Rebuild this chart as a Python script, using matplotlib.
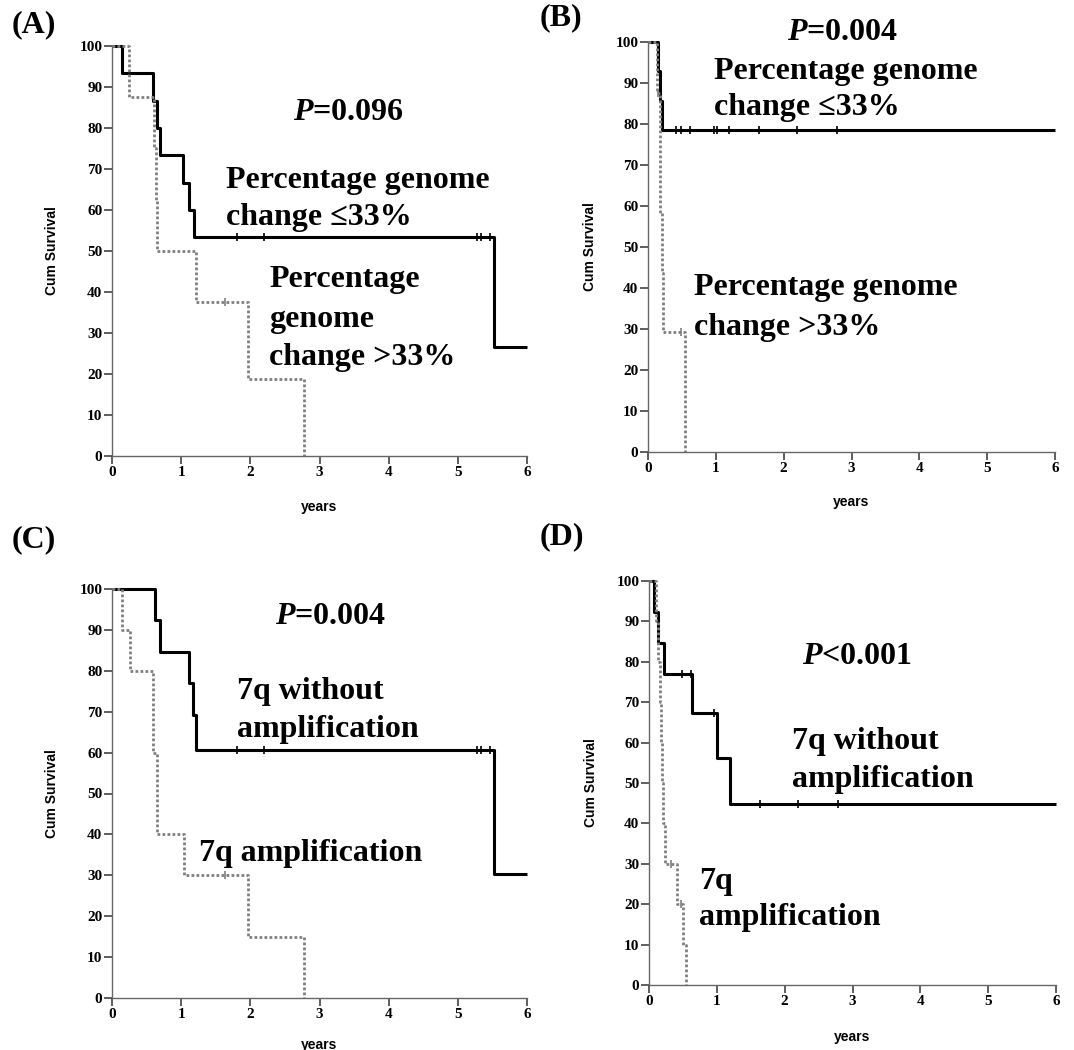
import matplotlib
matplotlib.use("Agg")
import matplotlib.pyplot as plt

plt.rcParams['mathtext.fontset'] = 'custom'
plt.rcParams['mathtext.it'] = 'Liberation Serif:italic:bold'
plt.rcParams['mathtext.rm'] = 'Liberation Serif:bold'

# ---- data ----
# (A) percentage genome change, overall
a_low_t = [0, 0.15, 0.59, 0.65, 0.70, 1.03, 1.11, 1.18, 5.52, 6.0]
a_low_s = [100, 93.3, 86.7, 80.0, 73.3, 66.7, 60.0, 53.3, 26.7, 26.7]
a_low_cens = [1.80, 2.20, 5.28, 5.33, 5.46]
a_high_t = [0, 0.25, 0.60, 0.63, 0.65, 1.21, 1.97, 2.78]
a_high_s = [100, 87.5, 75.0, 62.5, 50.0, 37.5, 18.75, 0]
a_high_cens = [1.63]

# (B) percentage genome change
b_low_t = [0, 0.15, 0.18, 0.21, 6.0]
b_low_s = [100, 92.9, 85.7, 78.6, 78.6]
b_low_cens = [0.42, 0.49, 0.62, 0.97, 1.02, 1.19, 1.63, 2.19, 2.78]
b_high_t = [0, 0.13, 0.17, 0.20, 0.22, 0.54]
b_high_s = [100, 87.5, 58.3, 43.75, 29.2, 0]
b_high_cens = [0.15, 0.48]

# (C) 7q amplification, overall
c_wo_t = [0, 0.62, 0.70, 1.12, 1.17, 1.22, 5.52, 6.0]
c_wo_s = [100, 92.3, 84.6, 76.9, 69.2, 60.6, 30.3, 30.3]
c_wo_cens = [1.80, 2.20, 5.27, 5.33, 5.46]
c_amp_t = [0, 0.14, 0.255, 0.59, 0.65, 1.035, 1.97, 2.78]
c_amp_s = [100, 90, 80, 60, 40, 30, 15, 0]
c_amp_cens = [1.63]

# (D) 7q amplification
d_wo_t = [0, 0.08, 0.13, 0.22, 0.64, 1.0, 1.19, 6.0]
d_wo_s = [100, 92.3, 84.6, 76.9, 67.3, 56.1, 44.9, 44.9]
d_wo_cens = [0.48, 0.62, 0.96, 1.63, 2.2, 2.78]
d_amp_t = [0, 0.11, 0.14, 0.16, 0.18, 0.19, 0.21, 0.23, 0.41, 0.50, 0.54]
d_amp_s = [100, 90, 80, 70, 60, 50, 40, 30, 20, 10, 0]
d_amp_cens = [0.33, 0.47]

yticks = list(range(0, 101, 10))
xticks = list(range(0, 7))

W, H = 1074, 1050
fig = plt.figure(figsize=(W / 100, H / 100), dpi=100)


def px_axes(x0, y0, x1, y1):
    return fig.add_axes([x0 / W, 1 - y1 / H, (x1 - x0) / W, (y1 - y0) / H])


def km(ax, t, s, cens, solid):
    if solid:
        kw = dict(color='black', lw=2.2, linestyle='-')
    else:
        kw = dict(color='#808080', lw=2.0, linestyle=(0, (1, 0.8)))
    ax.step(t, s, where='post', solid_capstyle='butt', dash_capstyle='butt', **kw)
    # censor marks sit on the curve value at that time
    vals = []
    for c in cens:
        v = s[0]
        for ti, si in zip(t, s):
            if ti <= c:
                v = si
        vals.append(v)
    ax.plot(cens, vals, linestyle='none', marker='|', ms=6, mew=1.2,
            color=kw['color'])


def style(ax, xlab_y, ylab_x):
    ax.set_xlim(0, 6)
    ax.set_ylim(0, 100)
    ax.set_xticks(xticks)
    ax.set_yticks(yticks)
    for side in ('top', 'right'):
        ax.spines[side].set_visible(False)
    for side in ('left', 'bottom'):
        ax.spines[side].set_color('#666666')
        ax.spines[side].set_linewidth(1.0)
    ax.tick_params(direction='out', length=6, width=1.1, color='#333333', pad=1)
    for lab in ax.get_xticklabels() + ax.get_yticklabels():
        lab.set_fontfamily('Liberation Serif')
        lab.set_fontweight('bold')
        lab.set_fontsize(11)
    ax.set_xlabel('years', family='Liberation Sans', weight='bold', fontsize=10)
    ax.set_ylabel('Cum Survival', family='Liberation Sans', weight='bold', fontsize=10)
    ax.xaxis.set_label_coords(0.5, xlab_y)
    ax.yaxis.set_label_coords(ylab_x, 0.5)


def label(x, y, s, ha='left'):
    fig.text(x / W, 1 - y / H, s, ha=ha, va='center', fontsize=23,
             family=['Liberation Serif', 'DejaVu Serif'], weight='bold')


axA = px_axes(112, 46, 527, 456)
km(axA, a_low_t, a_low_s, a_low_cens, True)
km(axA, a_high_t, a_high_s, a_high_cens, False)
style(axA, -0.107, -0.128)

axB = px_axes(648, 42, 1055, 452)
km(axB, b_low_t, b_low_s, b_low_cens, True)
km(axB, b_high_t, b_high_s, b_high_cens, False)
style(axB, -0.105, -0.125)

axC = px_axes(112, 589, 527, 998)
km(axC, c_wo_t, c_wo_s, c_wo_cens, True)
km(axC, c_amp_t, c_amp_s, c_amp_cens, False)
style(axC, -0.098, -0.128)

axD = px_axes(649, 581, 1056, 985)
km(axD, d_wo_t, d_wo_s, d_wo_cens, True)
km(axD, d_amp_t, d_amp_s, d_amp_cens, False)
style(axD, -0.111, -0.125)

for ax in (axA, axB, axC, axD):
    for ln in ax.lines:
        ln.set_clip_on(False)

# panel letters
label(12, 25, '(A)')
label(540, 18, '(B)')
label(12, 540, '(C)')
label(540, 537, '(D)')

# annotations
label(348, 113, r'$P$=0.096', ha='center')
label(226, 180, 'Percentage genome')
label(226, 218, 'change \u226433%')
label(269, 280, 'Percentage')
label(269, 320, 'genome')
label(269, 358, 'change >33%')

label(843, 32, r'$P$=0.004', ha='center')
label(714, 71, 'Percentage genome')
label(714, 108, 'change \u226433%')
label(694, 288, 'Percentage genome')
label(694, 328, 'change >33%')

label(331, 617, r'$P$=0.004', ha='center')
label(237, 692, '7q without')
label(237, 730, 'amplification')
label(199, 853, '7q amplification')

label(857, 657, r'$P$<0.001', ha='center')
label(792, 742, '7q without')
label(792, 780, 'amplification')
label(699, 882, '7q')
label(699, 918, 'amplification')

fig.savefig('out.png', dpi=100)
